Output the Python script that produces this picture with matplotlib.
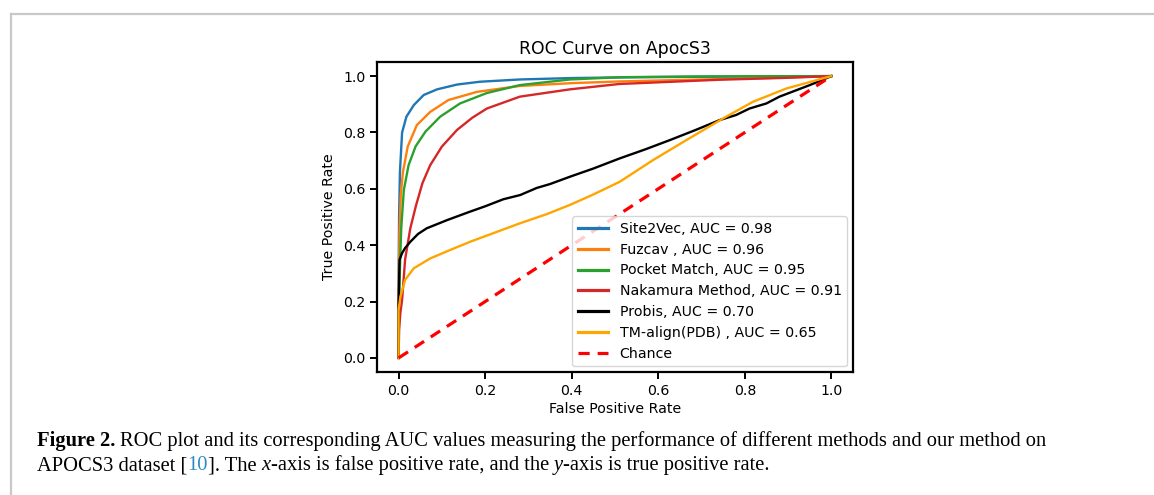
import matplotlib
matplotlib.use("Agg")
import matplotlib.pyplot as plt
from matplotlib.lines import Line2D

# ---------------- data ----------------
site2vec_fpr = [0, 0.0, 0.001, 0.003, 0.008, 0.018, 0.035, 0.058, 0.089, 0.135, 0.188, 0.28, 0.40, 0.55, 0.75, 1.0]
site2vec_tpr = [0, 0.30, 0.50, 0.66, 0.80, 0.856, 0.897, 0.933, 0.953, 0.97, 0.98, 0.988, 0.993, 0.996, 0.998, 1.0]

fuzcav_fpr = [0, 0.0, 0.002, 0.005, 0.010, 0.021, 0.042, 0.073, 0.115, 0.181, 0.28, 0.40, 0.51, 0.70, 0.85, 1.0]
fuzcav_tpr = [0, 0.25, 0.45, 0.58, 0.66, 0.75, 0.826, 0.873, 0.915, 0.944, 0.965, 0.975, 0.981, 0.988, 0.993, 1.0]

pocket_fpr = [0, 0.001, 0.003, 0.006, 0.012, 0.023, 0.039, 0.062, 0.096, 0.142, 0.204, 0.28, 0.396, 0.51, 0.70, 1.0]
pocket_tpr = [0, 0.15, 0.32, 0.46, 0.596, 0.684, 0.75, 0.803, 0.856, 0.903, 0.94, 0.968, 0.988, 0.996, 0.999, 1.0]

nakamura_fpr = [0, 0.001, 0.004, 0.008, 0.015, 0.027, 0.040, 0.055, 0.073, 0.100, 0.135, 0.170, 0.204, 0.28, 0.396, 0.51, 0.74, 0.9, 1.0]
nakamura_tpr = [0, 0.10, 0.16, 0.206, 0.35, 0.46, 0.54, 0.62, 0.684, 0.75, 0.809, 0.852, 0.885, 0.927, 0.953, 0.972, 0.987, 0.994, 1.0]

probis_fpr = [0, 0.0, 0.002, 0.008, 0.015, 0.027, 0.045, 0.065, 0.112, 0.165, 0.20, 0.242, 0.281, 0.319, 0.350, 0.396,
              0.45, 0.511, 0.57, 0.627, 0.685, 0.742, 0.78, 0.811, 0.85, 0.88, 0.95, 1.0]
probis_tpr = [0, 0.20, 0.348, 0.372, 0.39, 0.412, 0.44, 0.46, 0.489, 0.519, 0.538, 0.563, 0.578, 0.603, 0.617, 0.643,
              0.672, 0.708, 0.74, 0.773, 0.808, 0.844, 0.862, 0.885, 0.903, 0.927, 0.968, 1.0]

tmalign_fpr = [0, 0.0, 0.004, 0.015, 0.035, 0.073, 0.119, 0.165, 0.281, 0.342, 0.396, 0.45, 0.511, 0.588, 0.665, 0.75, 0.819, 0.896, 1.0]
tmalign_tpr = [0, 0.17, 0.217, 0.277, 0.318, 0.353, 0.383, 0.412, 0.478, 0.51, 0.543, 0.58, 0.625, 0.702, 0.773, 0.85, 0.909, 0.956, 1.0]

chance_fpr = [0, 1]
chance_tpr = [0, 1]

labels = ["Site2Vec, AUC = 0.98", "Fuzcav , AUC = 0.96", "Pocket Match, AUC = 0.95",
          "Nakamura Method, AUC = 0.91", "Probis, AUC = 0.70", "TM-align(PDB) , AUC = 0.65", "Chance"]
colors = ["#1f77b4", "#ff7f0e", "#2ca02c", "#d62728", "black", "orange", "red"]

title = "ROC Curve on ApocS3"
xlabel = "False Positive Rate"
ylabel = "True Positive Rate"
ticks = [0.0, 0.2, 0.4, 0.6, 0.8, 1.0]

# ---------------- figure ----------------
W, H = 1154, 495
fig = plt.figure(figsize=(W / 100, H / 100), dpi=100)
fig.patch.set_facecolor("white")

# page frame (gray lines at top and left)
fig.add_artist(Line2D([11 / W, 1.0], [1 - 14 / H, 1 - 14 / H], transform=fig.transFigure, color="#c8c8c8", lw=1.6))
fig.add_artist(Line2D([11 / W, 11 / W], [0, 1 - 14 / H], transform=fig.transFigure, color="#c8c8c8", lw=1.6))

ax = fig.add_axes([377 / W, (H - 372) / H, (853 - 377) / W, (372 - 62) / H])

FS = 10.2
series = [(site2vec_fpr, site2vec_tpr), (fuzcav_fpr, fuzcav_tpr), (pocket_fpr, pocket_tpr),
          (nakamura_fpr, nakamura_tpr), (probis_fpr, probis_tpr), (tmalign_fpr, tmalign_tpr)]
for (fx, ty), lab, col in zip(series, labels[:6], colors[:6]):
    ax.plot(fx, ty, color=col, lw=1.7, label=lab)
ax.plot(chance_fpr, chance_tpr, color=colors[6], lw=2.3, ls=(0, (3.5, 2.5)), label=labels[6])

ax.set_xlim(-0.05, 1.05)
ax.set_ylim(-0.05, 1.05)
ax.set_xticks(ticks)
ax.set_yticks(ticks)
ax.tick_params(labelsize=FS, width=1.4, length=5, color="black")
for s in ax.spines.values():
    s.set_linewidth(1.6)
ax.set_title(title, fontsize=12.4, pad=6)
ax.set_xlabel(xlabel, fontsize=FS, labelpad=3)
ax.set_ylabel(ylabel, fontsize=FS, labelpad=5)
leg = ax.legend(loc="lower right", fontsize=FS, handlelength=2.15, borderaxespad=0.4,
                labelspacing=0.48, framealpha=0.8)
for h in leg.get_lines():
    h.set_linewidth(2.3)

# ---------------- caption ----------------
fig.canvas.draw()
renderer = fig.canvas.get_renderer()
serif = ["Liberation Serif", "DejaVu Serif"]


def text_width(s, size, weight="normal", style="normal"):
    t = fig.text(0, 0, s, fontsize=size, family=serif, weight=weight, style=style)
    w = t.get_window_extent(renderer).width
    t.remove()
    return w


line1 = "Figure 2. ROC plot and its corresponding AUC values measuring the performance of different methods and our method on"
target = 1043 - 37
base = 12.0
size = base * target / text_width(line1, base)


def draw_pieces(pieces, x0, ybase):
    sp = text_width("a a", size) - text_width("aa", size)
    x = x0
    for txt, kw, gap in pieces:
        if gap:
            x += sp
        t = fig.text(x / W, 1 - ybase / H, txt, fontsize=size, family=serif, va="baseline", ha="left", **kw)
        x += t.get_window_extent(renderer).width


draw_pieces([("Figure 2.", {"weight": "bold"}, False),
             ("ROC plot and its corresponding AUC values measuring the performance of different methods and our method on", {}, True)],
            37, 446)
blue = "#2b8cc4"
draw_pieces([("APOCS3 dataset [", {}, False), ("10", {"color": blue}, False), ("]. The", {}, False),
             ("x", {"style": "italic"}, True), ("-axis is false positive rate, and the", {}, False),
             ("y", {"style": "italic"}, True), ("-axis is true positive rate.", {}, False)],
            37, 470)

fig.savefig("out.png", dpi=100, facecolor="white")
